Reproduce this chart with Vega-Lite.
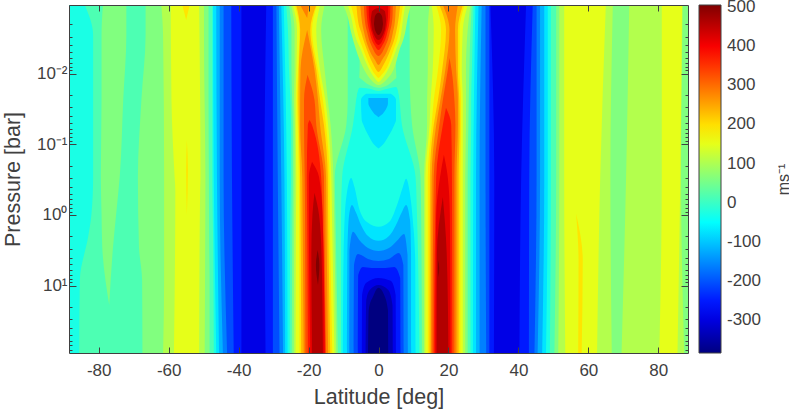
{"$schema":"https://vega.github.io/schema/vega-lite/v6.json","width":619,"height":348,"autosize":"none","padding":{"left":69,"top":5,"right":101,"bottom":57},"background":"white","config":{"view":{"stroke":null},"font":"Liberation Sans"},
"datasets":{
"h1":[
{"g":1,"v":-28,"p":0.00107,"a":-88.5,"b":88.5},{"g":1,"v":-28,"p":89.6,"a":-88.5,"b":88.5},
{"g":2,"v":16,"p":0.00107,"a":-84,"b":-47.5},{"g":2,"v":16,"p":0.00284,"a":-81.6,"b":-47.5},{"g":2,"v":16,"p":0.289,"a":-81.6,"b":-47.5},{"g":2,"v":16,"p":1,"a":-82.1,"b":-47.4},{"g":2,"v":16,"p":2,"a":-83,"b":-47.3},{"g":2,"v":16,"p":8.28,"a":-85.4,"b":-47.2},{"g":2,"v":16,"p":89.6,"a":-85.6,"b":-47.1},
{"g":3,"v":61,"p":0.00107,"a":-78.8,"b":-72.1},{"g":3,"v":61,"p":0.00284,"a":-79.2,"b":-72.1},{"g":3,"v":61,"p":0.0236,"a":-79.2,"b":-73},{"g":3,"v":61,"p":0.289,"a":-79.4,"b":-74},{"g":3,"v":61,"p":0.95,"a":-79.2,"b":-75},{"g":3,"v":61,"p":2.8,"a":-79,"b":-75.9},{"g":3,"v":61,"p":18.7,"a":-77,"b":-77},
{"g":4,"v":61,"p":0.00107,"a":-66.6,"b":-48.6},{"g":4,"v":61,"p":0.00284,"a":-66.6,"b":-48.6},{"g":4,"v":61,"p":0.0236,"a":-67.8,"b":-48.6},{"g":4,"v":61,"p":0.289,"a":-68.8,"b":-48.5},{"g":4,"v":61,"p":2.8,"a":-68.5,"b":-48.4},{"g":4,"v":61,"p":8.28,"a":-67.6,"b":-48.3},{"g":4,"v":61,"p":89.6,"a":-67.5,"b":-48.3},
{"g":5,"v":105,"p":0.00107,"a":-62.1,"b":-49.9},{"g":5,"v":105,"p":0.00284,"a":-61.6,"b":-49.9},{"g":5,"v":105,"p":0.289,"a":-61.3,"b":-49.5},{"g":5,"v":105,"p":8.28,"a":-61.3,"b":-49.6},{"g":5,"v":105,"p":89.6,"a":-61.6,"b":-49.7},
{"g":6,"v":150,"p":0.00107,"a":-59.4,"b":-51.3},{"g":6,"v":150,"p":0.0236,"a":-59.2,"b":-51},{"g":6,"v":150,"p":0.289,"a":-58.3,"b":-50.9},{"g":6,"v":150,"p":0.442,"a":-58.1,"b":-51},{"g":6,"v":150,"p":89.6,"a":-58.5,"b":-51.3},
{"g":7,"v":194,"p":0.00107,"a":-56.1,"b":-54},{"g":7,"v":194,"p":0.00174,"a":-55,"b":-55},
{"g":8,"v":194,"p":0.087,"a":-54.8,"b":-54.8},{"g":8,"v":194,"p":0.23,"a":-55,"b":-54.5},{"g":8,"v":194,"p":1,"a":-54.8,"b":-54.8},
{"g":9,"v":16,"p":0.00107,"a":49.3,"b":88.5},{"g":9,"v":16,"p":0.289,"a":49.3,"b":88.5},{"g":9,"v":16,"p":89.6,"a":49,"b":88.5},
{"g":10,"v":61,"p":0.00107,"a":50.8,"b":88.5},{"g":10,"v":61,"p":0.289,"a":50.8,"b":88.5},{"g":10,"v":61,"p":89.6,"a":50.3,"b":88.5},
{"g":11,"v":105,"p":0.00107,"a":51.7,"b":87},{"g":11,"v":105,"p":0.289,"a":51.7,"b":86.5},{"g":11,"v":105,"p":89.6,"a":51.4,"b":87.4},
{"g":12,"v":61,"p":0.00107,"a":67,"b":71.7},{"g":12,"v":61,"p":0.289,"a":66.3,"b":70.8},{"g":12,"v":61,"p":89.6,"a":66.7,"b":69.5},
{"g":13,"v":150,"p":0.00107,"a":53.1,"b":65},{"g":13,"v":150,"p":0.289,"a":53.1,"b":63.4},{"g":13,"v":150,"p":89.6,"a":53.4,"b":62.5},
{"g":14,"v":150,"p":0.00107,"a":81,"b":86.8},{"g":14,"v":150,"p":0.289,"a":81,"b":86.3},{"g":14,"v":150,"p":89.6,"a":80.3,"b":85.5},
{"g":15,"v":194,"p":0.95,"a":56.5,"b":56.5},{"g":15,"v":194,"p":4.32,"a":57.2,"b":58.4},{"g":15,"v":194,"p":89.6,"a":57.1,"b":58.1},
{"g":16,"v":-73,"p":0.00107,"a":-47.3,"b":-27.1},{"g":16,"v":-73,"p":0.289,"a":-47.1,"b":-26.2},{"g":16,"v":-73,"p":89.6,"a":-46.4,"b":-26},
{"g":17,"v":-117,"p":0.00107,"a":-46.4,"b":-27.8},{"g":17,"v":-117,"p":0.289,"a":-46.2,"b":-26.9},{"g":17,"v":-117,"p":89.6,"a":-45.6,"b":-26.7},
{"g":18,"v":-162,"p":0.00107,"a":-45.4,"b":-28.5},{"g":18,"v":-162,"p":0.289,"a":-45.4,"b":-27.8},{"g":18,"v":-162,"p":89.6,"a":-44.5,"b":-27.3},
{"g":19,"v":-206,"p":0.00107,"a":-44.3,"b":-29.2},{"g":19,"v":-206,"p":0.289,"a":-44.3,"b":-28.8},{"g":19,"v":-206,"p":89.6,"a":-43.3,"b":-28.3},
{"g":20,"v":-251,"p":0.00107,"a":-42.1,"b":-30.2},{"g":20,"v":-251,"p":0.289,"a":-41.9,"b":-30.2},{"g":20,"v":-251,"p":89.6,"a":-41.4,"b":-30.2},
{"g":21,"v":-295,"p":0.00107,"a":-39.2,"b":-32.1},{"g":21,"v":-295,"p":0.289,"a":-39.2,"b":-32.6},{"g":21,"v":-295,"p":89.6,"a":-39.2,"b":-32.3},
{"g":22,"v":-73,"p":0.00107,"a":27.7,"b":48.4},{"g":22,"v":-73,"p":0.289,"a":27.1,"b":48.4},{"g":22,"v":-73,"p":89.6,"a":27,"b":47.9},
{"g":23,"v":-117,"p":0.00107,"a":28.6,"b":47.4},{"g":23,"v":-117,"p":0.289,"a":27.9,"b":47.4},{"g":23,"v":-117,"p":89.6,"a":27.9,"b":46.8},
{"g":24,"v":-162,"p":0.00107,"a":29.5,"b":46.2},{"g":24,"v":-162,"p":0.289,"a":28.9,"b":46.2},{"g":24,"v":-162,"p":89.6,"a":28.9,"b":45.5},
{"g":25,"v":-206,"p":0.00107,"a":30.6,"b":45.2},{"g":25,"v":-206,"p":0.289,"a":30.6,"b":45.2},{"g":25,"v":-206,"p":89.6,"a":30.8,"b":44.6},
{"g":26,"v":-251,"p":0.00107,"a":31.7,"b":44.1},{"g":26,"v":-251,"p":0.289,"a":31.7,"b":43.1},{"g":26,"v":-251,"p":89.6,"a":31.7,"b":43},
{"g":27,"v":-295,"p":0.00107,"a":32,"b":42.2},{"g":27,"v":-295,"p":0.289,"a":33.1,"b":40.8},{"g":27,"v":-295,"p":89.6,"a":33,"b":40.3}
],
"v1":[
{"g":30,"v":16,"a":-6.5,"p":0.0236,"q":0.00107},{"g":30,"v":16,"a":-5.4,"p":0.0159,"q":0.00107},{"g":30,"v":16,"a":-2.6,"p":0.0164,"q":0.00107},{"g":30,"v":16,"a":0,"p":0.0176,"q":0.00107},{"g":30,"v":16,"a":2.6,"p":0.0164,"q":0.00107},{"g":30,"v":16,"a":5,"p":0.0155,"q":0.00107},{"g":30,"v":16,"a":6.2,"p":0.0236,"q":0.00107},
{"g":31,"v":61,"a":-9.5,"p":0.0236,"q":0.00107},{"g":31,"v":61,"a":-8.8,"p":0.0236,"q":0.00107},{"g":31,"v":61,"a":-8.2,"p":0.0115,"q":0.00107},{"g":31,"v":61,"a":-7.8,"p":0.00946,"q":0.00107},{"g":31,"v":61,"a":-5.4,"p":0.0115,"q":0.00107},{"g":31,"v":61,"a":-2.6,"p":0.0145,"q":0.00107},{"g":31,"v":61,"a":0,"p":0.0159,"q":0.00107},{"g":31,"v":61,"a":2.7,"p":0.0145,"q":0.00107},{"g":31,"v":61,"a":5.1,"p":0.0115,"q":0.00107},{"g":31,"v":61,"a":7.9,"p":0.00916,"q":0.00107},{"g":31,"v":61,"a":8.7,"p":0.0123,"q":0.00107},{"g":31,"v":61,"a":9.1,"p":0.0326,"q":0.00107}
],
"h2":[
{"g":40,"v":-73,"p":0.0193,"a":-3.5,"b":3.5},{"g":40,"v":-73,"p":0.0211,"a":-4.5,"b":4.5},{"g":40,"v":-73,"p":0.0236,"a":-5,"b":5},{"g":40,"v":-73,"p":0.0452,"a":-4.8,"b":5},{"g":40,"v":-73,"p":0.0532,"a":-4.3,"b":4.5},{"g":40,"v":-73,"p":0.0745,"a":-2.9,"b":3},{"g":40,"v":-73,"p":0.104,"a":-1,"b":1},{"g":40,"v":-73,"p":0.115,"a":0,"b":0},
{"g":41,"v":-117,"p":0.0222,"a":-2.9,"b":2.7},{"g":41,"v":-117,"p":0.0263,"a":-2.9,"b":2.7},{"g":41,"v":-117,"p":0.0326,"a":-2,"b":2},{"g":41,"v":-117,"p":0.0386,"a":-0.8,"b":0.8},{"g":41,"v":-117,"p":0.0415,"a":0,"b":0},
{"g":50,"v":16,"p":0.00107,"a":-26.4,"b":-5.4},{"g":50,"v":16,"p":0.00241,"a":-25.9,"b":-5.4},{"g":50,"v":16,"p":0.00887,"a":-25.6,"b":-5.4},{"g":50,"v":16,"p":0.0236,"a":-25.2,"b":-6.4},{"g":50,"v":16,"p":0.0532,"a":-25,"b":-7.3},{"g":50,"v":16,"p":0.289,"a":-25,"b":-10.4},{"g":50,"v":16,"p":1,"a":-25.2,"b":-10.7},{"g":50,"v":16,"p":89.6,"a":-25.4,"b":-10.7},
{"g":51,"v":61,"p":0.00107,"a":-25.6,"b":-8.8},{"g":51,"v":61,"p":0.00241,"a":-24.9,"b":-8.8},{"g":51,"v":61,"p":0.00887,"a":-24.9,"b":-8.8},{"g":51,"v":61,"p":0.0236,"a":-24.7,"b":-8.8},{"g":51,"v":61,"p":0.0532,"a":-24.5,"b":-9.2},{"g":51,"v":61,"p":0.289,"a":-24.5,"b":-12.5},{"g":51,"v":61,"p":1,"a":-24.6,"b":-12.3},{"g":51,"v":61,"p":89.6,"a":-24.8,"b":-11.6},
{"g":52,"v":105,"p":0.00107,"a":-25,"b":-15.4},{"g":52,"v":105,"p":0.00241,"a":-24,"b":-16.4},{"g":52,"v":105,"p":0.00887,"a":-24,"b":-15.4},{"g":52,"v":105,"p":0.0236,"a":-24.2,"b":-14.5},{"g":52,"v":105,"p":0.0532,"a":-24,"b":-13.7},{"g":52,"v":105,"p":0.289,"a":-24,"b":-12.9},{"g":52,"v":105,"p":1,"a":-24.1,"b":-12.7},{"g":52,"v":105,"p":89.6,"a":-24.2,"b":-12.1},
{"g":53,"v":150,"p":0.00107,"a":-24.5,"b":-16.7},{"g":53,"v":150,"p":0.00241,"a":-23.3,"b":-17.8},{"g":53,"v":150,"p":0.00887,"a":-23.5,"b":-16.7},{"g":53,"v":150,"p":0.0236,"a":-23.7,"b":-15.2},{"g":53,"v":150,"p":0.0532,"a":-23.7,"b":-14.4},{"g":53,"v":150,"p":0.289,"a":-23.5,"b":-13.5},{"g":53,"v":150,"p":1,"a":-23.6,"b":-13.3},{"g":53,"v":150,"p":89.6,"a":-23.7,"b":-12.6},
{"g":54,"v":194,"p":0.00107,"a":-23.9,"b":-17.6},{"g":54,"v":194,"p":0.00241,"a":-22.6,"b":-19},{"g":54,"v":194,"p":0.00887,"a":-23,"b":-17.3},{"g":54,"v":194,"p":0.0236,"a":-23.3,"b":-15.9},{"g":54,"v":194,"p":0.0532,"a":-23.1,"b":-15},{"g":54,"v":194,"p":0.289,"a":-22.8,"b":-14},{"g":54,"v":194,"p":1,"a":-22.7,"b":-13.9},{"g":54,"v":194,"p":89.6,"a":-22.6,"b":-13.2},
{"g":55,"v":238,"p":0.00107,"a":-23.5,"b":-17.8},{"g":55,"v":238,"p":0.00241,"a":-22.4,"b":-19.5},{"g":55,"v":238,"p":0.00887,"a":-22.8,"b":-17.8},{"g":55,"v":238,"p":0.0236,"a":-22.9,"b":-16.7},{"g":55,"v":238,"p":0.0532,"a":-22.8,"b":-15.6},{"g":55,"v":238,"p":0.289,"a":-22.4,"b":-14.5},{"g":55,"v":238,"p":1,"a":-22.3,"b":-14.4},{"g":55,"v":238,"p":89.6,"a":-22.1,"b":-13.8},
{"g":56,"v":283,"p":0.00107,"a":-22.4,"b":-19.9},{"g":56,"v":283,"p":0.00163,"a":-20.4,"b":-20.4},
{"g":57,"v":283,"p":0.00241,"a":-20.4,"b":-20.4},{"g":57,"v":283,"p":0.00887,"a":-22.3,"b":-18.3},{"g":57,"v":283,"p":0.0236,"a":-22.4,"b":-17.3},{"g":57,"v":283,"p":0.0532,"a":-22.4,"b":-16.7},{"g":57,"v":283,"p":0.289,"a":-21.8,"b":-15},{"g":57,"v":283,"p":1,"a":-21.7,"b":-14.9},{"g":57,"v":283,"p":89.6,"a":-21.4,"b":-14.4},
{"g":58,"v":327,"p":0.0104,"a":-20.3,"b":-20.3},{"g":58,"v":327,"p":0.0236,"a":-21.3,"b":-18.3},{"g":58,"v":327,"p":0.0532,"a":-21.3,"b":-17.8},{"g":58,"v":327,"p":0.289,"a":-21.1,"b":-15.6},{"g":58,"v":327,"p":1,"a":-21,"b":-15.5},{"g":58,"v":327,"p":89.6,"a":-20.9,"b":-15},
{"g":59,"v":372,"p":0.0452,"a":-19.7,"b":-19.7},{"g":59,"v":372,"p":0.0532,"a":-20.2,"b":-19},{"g":59,"v":372,"p":0.289,"a":-20.5,"b":-16.4},{"g":59,"v":372,"p":1,"a":-20.4,"b":-16},{"g":59,"v":372,"p":89.6,"a":-20.2,"b":-15.2},
{"g":60,"v":416,"p":0.177,"a":-19,"b":-19},{"g":60,"v":416,"p":0.289,"a":-19.9,"b":-17},{"g":60,"v":416,"p":1,"a":-19.9,"b":-16},{"g":60,"v":416,"p":89.6,"a":-19.5,"b":-15.4},
{"g":61,"v":461,"p":0.486,"a":-18.3,"b":-18.3},{"g":61,"v":461,"p":1,"a":-18.9,"b":-17},{"g":61,"v":461,"p":3.44,"a":-19.2,"b":-16.3},{"g":61,"v":461,"p":89.6,"a":-19,"b":-15.9},
{"g":62,"v":505,"p":3.12,"a":-17.4,"b":-17.4},{"g":62,"v":505,"p":5.08,"a":-17.9,"b":-16.9},{"g":62,"v":505,"p":9.75,"a":-17.3,"b":-17.3},
{"g":70,"v":16,"p":0.00107,"a":5,"b":27.2},{"g":70,"v":16,"p":0.00241,"a":5,"b":27},{"g":70,"v":16,"p":0.00887,"a":5,"b":26.7},{"g":70,"v":16,"p":0.0236,"a":6,"b":26.5},{"g":70,"v":16,"p":0.0532,"a":6.7,"b":26.5},{"g":70,"v":16,"p":0.289,"a":10.6,"b":26.3},{"g":70,"v":16,"p":1,"a":11,"b":26.3},{"g":70,"v":16,"p":89.6,"a":11.7,"b":26.3},
{"g":71,"v":61,"p":0.00107,"a":8.9,"b":26.7},{"g":71,"v":61,"p":0.00241,"a":8.9,"b":26.3},{"g":71,"v":61,"p":0.00887,"a":8.9,"b":26},{"g":71,"v":61,"p":0.0236,"a":9.1,"b":25.8},{"g":71,"v":61,"p":0.0532,"a":9.6,"b":25.7},{"g":71,"v":61,"p":0.289,"a":12,"b":25.5},{"g":71,"v":61,"p":1,"a":12.2,"b":25.5},{"g":71,"v":61,"p":89.6,"a":12.4,"b":25.5},
{"g":72,"v":105,"p":0.00107,"a":14.6,"b":26.3},{"g":72,"v":105,"p":0.00241,"a":14.1,"b":25.5},{"g":72,"v":105,"p":0.00887,"a":14.1,"b":25},{"g":72,"v":105,"p":0.0236,"a":13.9,"b":25},{"g":72,"v":105,"p":0.0532,"a":13.9,"b":25},{"g":72,"v":105,"p":0.289,"a":13,"b":24.8},{"g":72,"v":105,"p":89.6,"a":13,"b":24.8},
{"g":73,"v":150,"p":0.00107,"a":15.2,"b":25.5},{"g":73,"v":150,"p":0.00241,"a":15.8,"b":24.1},{"g":73,"v":150,"p":0.00887,"a":15.5,"b":23.8},{"g":73,"v":150,"p":0.0236,"a":14.9,"b":24.1},{"g":73,"v":150,"p":0.0532,"a":14.6,"b":24.1},{"g":73,"v":150,"p":0.289,"a":13.4,"b":24.1},{"g":73,"v":150,"p":89.6,"a":13.4,"b":24.1},
{"g":74,"v":194,"p":0.00107,"a":16.5,"b":24.6},{"g":74,"v":194,"p":0.00241,"a":17.9,"b":23.2},{"g":74,"v":194,"p":0.00887,"a":17,"b":23.2},{"g":74,"v":194,"p":0.0236,"a":15.8,"b":23.6},{"g":74,"v":194,"p":0.0532,"a":15.2,"b":23.6},{"g":74,"v":194,"p":0.289,"a":14.1,"b":23.4},{"g":74,"v":194,"p":89.6,"a":14.1,"b":23.4},
{"g":75,"v":238,"p":0.00107,"a":17.4,"b":24.1},{"g":75,"v":238,"p":0.00241,"a":19.3,"b":22.7},{"g":75,"v":238,"p":0.00887,"a":18.2,"b":22.7},{"g":75,"v":238,"p":0.0236,"a":17,"b":23.1},{"g":75,"v":238,"p":0.0532,"a":15.8,"b":23.2},{"g":75,"v":238,"p":0.289,"a":14.7,"b":22.9},{"g":75,"v":238,"p":89.6,"a":14.6,"b":22.9},
{"g":76,"v":283,"p":0.00107,"a":18.4,"b":22.7},{"g":76,"v":283,"p":0.00241,"a":20.3,"b":21.9},{"g":76,"v":283,"p":0.00887,"a":19.1,"b":22.2},{"g":76,"v":283,"p":0.0236,"a":17.7,"b":22.7},{"g":76,"v":283,"p":0.0532,"a":16.5,"b":22.7},{"g":76,"v":283,"p":0.289,"a":15.2,"b":22.3},{"g":76,"v":283,"p":89.6,"a":15,"b":22.3},
{"g":77,"v":327,"p":0.006,"a":20.3,"b":20.3},{"g":77,"v":327,"p":0.00887,"a":19.8,"b":20.9},{"g":77,"v":327,"p":0.0236,"a":18.4,"b":21.7},{"g":77,"v":327,"p":0.0532,"a":17.4,"b":22},{"g":77,"v":327,"p":0.289,"a":15.8,"b":21.7},{"g":77,"v":327,"p":89.6,"a":15.4,"b":21.7},
{"g":78,"v":372,"p":0.0305,"a":19.3,"b":19.3},{"g":78,"v":372,"p":0.0532,"a":18.4,"b":20.8},{"g":78,"v":372,"p":0.289,"a":16.5,"b":21},{"g":78,"v":372,"p":89.6,"a":15.8,"b":21.1},
{"g":79,"v":416,"p":0.141,"a":18.7,"b":18.7},{"g":79,"v":416,"p":0.289,"a":17.6,"b":19.8},{"g":79,"v":416,"p":1,"a":16.5,"b":20.4},{"g":79,"v":416,"p":89.6,"a":16.2,"b":20.6},
{"g":80,"v":461,"p":0.555,"a":18.4,"b":18.4},{"g":80,"v":461,"p":3.44,"a":16.7,"b":19.5},{"g":80,"v":461,"p":89.6,"a":16.6,"b":20},
{"g":81,"v":505,"p":4.32,"a":17.2,"b":17.2},{"g":81,"v":505,"p":5.6,"a":17.05,"b":17.35},{"g":81,"v":505,"p":7.6,"a":17.2,"b":17.2}
],
"v2":[
{"g":90,"v":-73,"a":-10.2,"p":89.6,"q":89.6},{"g":90,"v":-73,"a":-10,"p":4.32,"q":89.6},{"g":90,"v":-73,"a":-9.3,"p":0.611,"q":89.6},{"g":90,"v":-73,"a":-7.8,"p":0.2985,"q":89.6},{"g":90,"v":-73,"a":-6.9,"p":0.4,"q":89.6},{"g":90,"v":-73,"a":-5.4,"p":0.847,"q":89.6},{"g":90,"v":-73,"a":-3,"p":1.29,"q":89.6},{"g":90,"v":-73,"a":0,"p":1.47,"q":89.6},{"g":90,"v":-73,"a":3.1,"p":1.25,"q":89.6},{"g":90,"v":-73,"a":5.5,"p":0.675,"q":89.6},{"g":90,"v":-73,"a":7,"p":0.4,"q":89.6},{"g":90,"v":-73,"a":7.9,"p":0.308,"q":89.6},{"g":90,"v":-73,"a":8.9,"p":0.471,"q":89.6},{"g":90,"v":-73,"a":9.8,"p":1.17,"q":89.6},{"g":90,"v":-73,"a":10.5,"p":4.32,"q":89.6},{"g":90,"v":-73,"a":10.6,"p":89.6,"q":89.6},
{"g":91,"v":-117,"a":-9,"p":89.6,"q":89.6},{"g":91,"v":-117,"a":-8.9,"p":3.12,"q":89.6},{"g":91,"v":-117,"a":-8.4,"p":1,"q":89.6},{"g":91,"v":-117,"a":-7.6,"p":0.72,"q":89.6},{"g":91,"v":-117,"a":-6.5,"p":0.904,"q":89.6},{"g":91,"v":-117,"a":-5,"p":1.38,"q":89.6},{"g":91,"v":-117,"a":-3,"p":1.98,"q":89.6},{"g":91,"v":-117,"a":0,"p":2.32,"q":89.6},{"g":91,"v":-117,"a":3,"p":1.98,"q":89.6},{"g":91,"v":-117,"a":5,"p":1.38,"q":89.6},{"g":91,"v":-117,"a":6.7,"p":0.904,"q":89.6},{"g":91,"v":-117,"a":7.9,"p":0.72,"q":89.6},{"g":91,"v":-117,"a":9,"p":1.17,"q":89.6},{"g":91,"v":-117,"a":9.3,"p":3.12,"q":89.6},{"g":91,"v":-117,"a":9.35,"p":89.6,"q":89.6},
{"g":92,"v":-162,"a":-8.35,"p":89.6,"q":89.6},{"g":92,"v":-162,"a":-8.3,"p":3.12,"q":89.6},{"g":92,"v":-162,"a":-7.3,"p":1.73,"q":89.6},{"g":92,"v":-162,"a":-5.5,"p":2.25,"q":89.6},{"g":92,"v":-162,"a":-3,"p":2.92,"q":89.6},{"g":92,"v":-162,"a":0,"p":3.22,"q":89.6},{"g":92,"v":-162,"a":3,"p":2.92,"q":89.6},{"g":92,"v":-162,"a":5.5,"p":2.25,"q":89.6},{"g":92,"v":-162,"a":7.3,"p":1.85,"q":89.6},{"g":92,"v":-162,"a":8.3,"p":3.66,"q":89.6},{"g":92,"v":-162,"a":8.4,"p":89.6,"q":89.6},
{"g":93,"v":-206,"a":-7.1,"p":89.6,"q":89.6},{"g":93,"v":-206,"a":-7,"p":5.08,"q":89.6},{"g":93,"v":-206,"a":-5.9,"p":3.55,"q":89.6},{"g":93,"v":-206,"a":-3,"p":4.18,"q":89.6},{"g":93,"v":-206,"a":0,"p":4.46,"q":89.6},{"g":93,"v":-206,"a":3,"p":4.18,"q":89.6},{"g":93,"v":-206,"a":5.8,"p":3.44,"q":89.6},{"g":93,"v":-206,"a":7.1,"p":5.08,"q":89.6},{"g":93,"v":-206,"a":7.2,"p":89.6,"q":89.6},
{"g":94,"v":-251,"a":-5.9,"p":89.6,"q":89.6},{"g":94,"v":-251,"a":-5.8,"p":7.04,"q":89.6},{"g":94,"v":-251,"a":-4.5,"p":5.42,"q":89.6},{"g":94,"v":-251,"a":-2,"p":5.6,"q":89.6},{"g":94,"v":-251,"a":0,"p":5.6,"q":89.6},{"g":94,"v":-251,"a":2,"p":5.6,"q":89.6},{"g":94,"v":-251,"a":4.5,"p":5.42,"q":89.6},{"g":94,"v":-251,"a":6.2,"p":7.76,"q":89.6},{"g":94,"v":-251,"a":6.3,"p":89.6,"q":89.6},
{"g":95,"v":-295,"a":-4.75,"p":89.6,"q":89.6},{"g":95,"v":-295,"a":-4.7,"p":13.5,"q":89.6},{"g":95,"v":-295,"a":-3.5,"p":9.12,"q":89.6},{"g":95,"v":-295,"a":0,"p":7.76,"q":89.6},{"g":95,"v":-295,"a":3.5,"p":8.55,"q":89.6},{"g":95,"v":-295,"a":4.9,"p":13.5,"q":89.6},{"g":95,"v":-295,"a":5,"p":89.6,"q":89.6},
{"g":96,"v":-340,"a":-3.7,"p":89.6,"q":89.6},{"g":96,"v":-340,"a":-3.5,"p":15.9,"q":89.6},{"g":96,"v":-340,"a":-2.5,"p":11.5,"q":89.6},{"g":96,"v":-340,"a":0,"p":9.75,"q":89.6},{"g":96,"v":-340,"a":2.8,"p":11.5,"q":89.6},{"g":96,"v":-340,"a":4,"p":18.7,"q":89.6},{"g":96,"v":-340,"a":4.1,"p":89.6,"q":89.6},
{"g":97,"v":-384,"a":-3,"p":89.6,"q":89.6},{"g":97,"v":-384,"a":-2.8,"p":22,"q":89.6},{"g":97,"v":-384,"a":-1.5,"p":14,"q":89.6},{"g":97,"v":-384,"a":0,"p":10.7,"q":89.6},{"g":97,"v":-384,"a":1.5,"p":13.1,"q":89.6},{"g":97,"v":-384,"a":2.7,"p":22,"q":89.6},{"g":97,"v":-384,"a":2.8,"p":89.6,"q":89.6},
{"g":100,"v":105,"a":-10.2,"p":0.00107,"q":0.00107},{"g":100,"v":105,"a":-8.8,"p":0.00158,"q":0.00107},{"g":100,"v":105,"a":-7.8,"p":0.00265,"q":0.00107},{"g":100,"v":105,"a":-6.4,"p":0.00463,"q":0.00107},{"g":100,"v":105,"a":-4.5,"p":0.00804,"q":0.00107},{"g":100,"v":105,"a":-2.1,"p":0.0123,"q":0.00107},{"g":100,"v":105,"a":0,"p":0.0145,"q":0.00107},{"g":100,"v":105,"a":2.2,"p":0.0123,"q":0.00107},{"g":100,"v":105,"a":4.6,"p":0.00804,"q":0.00107},{"g":100,"v":105,"a":6,"p":0.00463,"q":0.00107},{"g":100,"v":105,"a":7.6,"p":0.00265,"q":0.00107},{"g":100,"v":105,"a":8.4,"p":0.00158,"q":0.00107},{"g":100,"v":105,"a":9.3,"p":0.00107,"q":0.00107},
{"g":101,"v":150,"a":-8.8,"p":0.00107,"q":0.00107},{"g":101,"v":150,"a":-7.8,"p":0.00158,"q":0.00107},{"g":101,"v":150,"a":-6.9,"p":0.00265,"q":0.00107},{"g":101,"v":150,"a":-5,"p":0.00463,"q":0.00107},{"g":101,"v":150,"a":-3,"p":0.00804,"q":0.00107},{"g":101,"v":150,"a":-1.1,"p":0.0115,"q":0.00107},{"g":101,"v":150,"a":0,"p":0.0131,"q":0.00107},{"g":101,"v":150,"a":1.2,"p":0.0115,"q":0.00107},{"g":101,"v":150,"a":3.1,"p":0.00804,"q":0.00107},{"g":101,"v":150,"a":5,"p":0.00463,"q":0.00107},{"g":101,"v":150,"a":6.5,"p":0.00265,"q":0.00107},{"g":101,"v":150,"a":7.1,"p":0.00158,"q":0.00107},{"g":101,"v":150,"a":7.7,"p":0.00107,"q":0.00107},
{"g":102,"v":194,"a":-7.9,"p":0.00107,"q":0.00107},{"g":102,"v":194,"a":-7,"p":0.00158,"q":0.00107},{"g":102,"v":194,"a":-6,"p":0.00265,"q":0.00107},{"g":102,"v":194,"a":-4.3,"p":0.00463,"q":0.00107},{"g":102,"v":194,"a":-2.3,"p":0.00804,"q":0.00107},{"g":102,"v":194,"a":-0.9,"p":0.0104,"q":0.00107},{"g":102,"v":194,"a":0,"p":0.0115,"q":0.00107},{"g":102,"v":194,"a":0.9,"p":0.0104,"q":0.00107},{"g":102,"v":194,"a":2.5,"p":0.00804,"q":0.00107},{"g":102,"v":194,"a":4.3,"p":0.00463,"q":0.00107},{"g":102,"v":194,"a":5.8,"p":0.00265,"q":0.00107},{"g":102,"v":194,"a":6.5,"p":0.00158,"q":0.00107},{"g":102,"v":194,"a":7,"p":0.00107,"q":0.00107},
{"g":103,"v":238,"a":-6.3,"p":0.00107,"q":0.00107},{"g":103,"v":238,"a":-6,"p":0.00158,"q":0.00107},{"g":103,"v":238,"a":-4.9,"p":0.00265,"q":0.00107},{"g":103,"v":238,"a":-3.3,"p":0.00463,"q":0.00107},{"g":103,"v":238,"a":-1.4,"p":0.00753,"q":0.00107},{"g":103,"v":238,"a":0,"p":0.00946,"q":0.00107},{"g":103,"v":238,"a":1.4,"p":0.00753,"q":0.00107},{"g":103,"v":238,"a":3.4,"p":0.00463,"q":0.00107},{"g":103,"v":238,"a":5,"p":0.00265,"q":0.00107},{"g":103,"v":238,"a":5.8,"p":0.00158,"q":0.00107},{"g":103,"v":238,"a":6.2,"p":0.00107,"q":0.00107},
{"g":104,"v":283,"a":-5.2,"p":0.00107,"q":0.00107},{"g":104,"v":283,"a":-4.9,"p":0.00158,"q":0.00107},{"g":104,"v":283,"a":-4.1,"p":0.00265,"q":0.00107},{"g":104,"v":283,"a":-2.6,"p":0.00463,"q":0.00107},{"g":104,"v":283,"a":-1,"p":0.0064,"q":0.00107},{"g":104,"v":283,"a":0,"p":0.00753,"q":0.00107},{"g":104,"v":283,"a":1,"p":0.0064,"q":0.00107},{"g":104,"v":283,"a":2.6,"p":0.00463,"q":0.00107},{"g":104,"v":283,"a":4.1,"p":0.00265,"q":0.00107},{"g":104,"v":283,"a":4.8,"p":0.00158,"q":0.00107},{"g":104,"v":283,"a":5,"p":0.00107,"q":0.00107},
{"g":105,"v":327,"a":-4.2,"p":0.00107,"q":0.00107},{"g":105,"v":327,"a":-4,"p":0.00158,"q":0.00107},{"g":105,"v":327,"a":-3.2,"p":0.00265,"q":0.00107},{"g":105,"v":327,"a":-1.7,"p":0.00433,"q":0.00107},{"g":105,"v":327,"a":0,"p":0.00562,"q":0.00107},{"g":105,"v":327,"a":1.7,"p":0.00433,"q":0.00107},{"g":105,"v":327,"a":3.2,"p":0.00265,"q":0.00107},{"g":105,"v":327,"a":4,"p":0.00158,"q":0.00107},{"g":105,"v":327,"a":4.1,"p":0.00107,"q":0.00107},
{"g":106,"v":372,"a":-3.5,"p":0.00107,"q":0.00107},{"g":106,"v":372,"a":-3.3,"p":0.00158,"q":0.00107},{"g":106,"v":372,"a":-2.5,"p":0.00265,"q":0.00107},{"g":106,"v":372,"a":-1,"p":0.00406,"q":0.00107},{"g":106,"v":372,"a":0,"p":0.00463,"q":0.00107},{"g":106,"v":372,"a":1,"p":0.00406,"q":0.00107},{"g":106,"v":372,"a":2.5,"p":0.00265,"q":0.00107},{"g":106,"v":372,"a":3.3,"p":0.00158,"q":0.00107},{"g":106,"v":372,"a":3.4,"p":0.00107,"q":0.00107},
{"g":107,"v":416,"a":-2.8,"p":0.00107,"q":0.00107},{"g":107,"v":416,"a":-2.7,"p":0.00158,"q":0.00107},{"g":107,"v":416,"a":-1.9,"p":0.00265,"q":0.00107},{"g":107,"v":416,"a":0,"p":0.00393,"q":0.00107},{"g":107,"v":416,"a":1.9,"p":0.00265,"q":0.00107},{"g":107,"v":416,"a":2.7,"p":0.00158,"q":0.00107},{"g":107,"v":416,"a":2.8,"p":0.00107,"q":0.00107},
{"g":108,"v":461,"a":-2.2,"p":0.00174,"q":0.00174},{"g":108,"v":461,"a":-1.8,"p":0.00241,"q":0.0013},{"g":108,"v":461,"a":0,"p":0.00334,"q":0.00118},{"g":108,"v":461,"a":1.8,"p":0.00241,"q":0.0013},{"g":108,"v":461,"a":2.2,"p":0.00174,"q":0.00174},
{"g":109,"v":505,"a":-1.3,"p":0.00198,"q":0.00198},{"g":109,"v":505,"a":-1,"p":0.00241,"q":0.00153},{"g":109,"v":505,"a":0,"p":0.00284,"q":0.00138},{"g":109,"v":505,"a":1,"p":0.00241,"q":0.00153},{"g":109,"v":505,"a":1.3,"p":0.00198,"q":0.00198}
]},
"encoding":{
"x":{"field":"a","type":"quantitative","scale":{"domain":[-88.5,88.5],"nice":false,"zero":false},"axis":null},
"y":{"field":"p","type":"quantitative","scale":{"type":"log","domain":[0.00107,89.6],"nice":false,"reverse":true},"axis":null},
"detail":{"field":"g"},
"color":{"field":"v","type":"quantitative","scale":{"domain":[-384,505],"interpolate":"rgb","range":["#000080","#0000ff","#0080ff","#00ffff","#80ff80","#ffff00","#ff8000","#ff0000","#800000"]},
"legend":{"orient":"none","legendX":630,"legendY":0,"title":null,"gradientLength":348,"gradientThickness":22,"gradientStrokeColor":"#404040","gradientStrokeWidth":1,"values":[-300,-200,-100,0,100,200,300,400,500],"labelExpr":"''+datum.value","labelFontSize":17,"labelColor":"#404040","labelFont":"Liberation Sans","labelOffset":6,"padding":0,"encoding":{"labels":{"update":{"dy":{"value":2}}}}}}},
"resolve":{"axis":{"x":"independent","y":"independent"}},
"layer":[
{"data":{"name":"h1"},"mark":{"type":"area","orient":"horizontal","clip":true,"interpolate":"monotone"},
"encoding":{"x2":{"field":"b"},
"x":{"field":"a","type":"quantitative","title":"Latitude [deg]","axis":{"orient":"bottom","zindex":1,"values":[-80,-60,-40,-20,0,20,40,60,80],"labelExpr":"''+datum.value","grid":false,"domainColor":"#404040","tickColor":"#404040","tickSize":-6,"labelFontSize":17,"labelColor":"#404040","labelFont":"Liberation Sans","labelPadding":15,"titleFontSize":21.5,"titleColor":"#404040","titleFont":"Liberation Sans","titleFontWeight":"normal","titlePadding":8}},
"y":{"field":"p","type":"quantitative","title":"Pressure [bar]","axis":{"orient":"left","zindex":1,"values":[0.002,0.003,0.004,0.005,0.006,0.007,0.008,0.009,0.01,0.02,0.03,0.04,0.05,0.06,0.07,0.08,0.09,0.1,0.2,0.3,0.4,0.5,0.6,0.7,0.8,0.9,1,2,3,4,5,6,7,8,9,10,20,30,40,50,60,70,80],"labelExpr":"datum.value==0.01?'10⁻²':datum.value==0.1?'10⁻¹':datum.value==1?'10⁰':datum.value==10?'10¹':''","labelOverlap":false,"grid":false,"domainColor":"#404040","tickColor":"#404040","tickSize":{"condition":{"test":"datum.value==0.01||datum.value==0.1||datum.value==1||datum.value==10","value":-7},"value":-3},"labelFontSize":17,"labelColor":"#404040","labelFont":"Liberation Sans","labelPadding":9,"titleFontSize":21.5,"titleColor":"#404040","titleFont":"Liberation Sans","titleFontWeight":"normal","titlePadding":12}}}},
{"data":{"name":"v1"},"mark":{"type":"area","orient":"vertical","clip":true,"interpolate":"monotone"},"encoding":{"y2":{"field":"q"}}},
{"data":{"name":"h2"},"mark":{"type":"area","orient":"horizontal","clip":true,"interpolate":"monotone"},"encoding":{"x2":{"field":"b"}}},
{"data":{"name":"v2"},"mark":{"type":"area","orient":"vertical","clip":true,"interpolate":"monotone"},"encoding":{"y2":{"field":"q"}}},
{"data":{"values":[{"a":0,"p":1,"b":0,"g":0,"v":0}]},"mark":{"type":"area","orient":"horizontal","opacity":0},
"encoding":{"x2":{"field":"b"},
"x":{"field":"a","type":"quantitative","title":null,"axis":{"orient":"top","zindex":1,"values":[-80,-60,-40,-20,0,20,40,60,80],"labels":false,"grid":false,"domainColor":"#404040","tickColor":"#404040","tickSize":-6}},
"y":{"field":"p","type":"quantitative","title":"ms⁻¹","axis":{"orient":"right","zindex":1,"values":[0.002,0.003,0.004,0.005,0.006,0.007,0.008,0.009,0.01,0.02,0.03,0.04,0.05,0.06,0.07,0.08,0.09,0.1,0.2,0.3,0.4,0.5,0.6,0.7,0.8,0.9,1,2,3,4,5,6,7,8,9,10,20,30,40,50,60,70,80],"labels":false,"grid":false,"domainColor":"#404040","tickColor":"#404040","tickSize":{"condition":{"test":"datum.value==0.01||datum.value==0.1||datum.value==1||datum.value==10","value":-7},"value":-3},"titleAngle":-90,"titleFontSize":16,"titleColor":"#404040","titleFont":"Liberation Sans","titleFontWeight":"normal","titlePadding":103}}}}
]}
